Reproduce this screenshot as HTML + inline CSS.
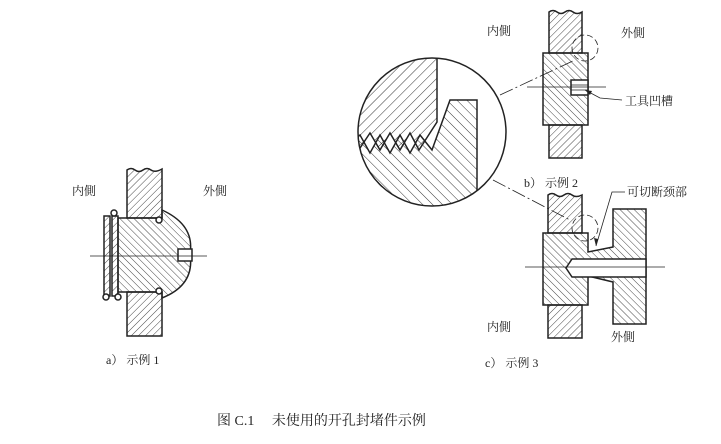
<!DOCTYPE html>
<html><head><meta charset="utf-8"><style>
body{margin:0;background:#fff}
svg{display:block}
text{font-family:"Liberation Serif","Noto Serif CJK SC","Noto Sans CJK SC",serif;fill:#222}
</style></head><body>
<svg width="721" height="444" viewBox="0 0 721 444" xmlns="http://www.w3.org/2000/svg">
<defs>
<pattern id="h1" width="5" height="5" patternUnits="userSpaceOnUse" patternTransform="rotate(45)"><line x1="0" y1="0" x2="0" y2="5" stroke="#333" stroke-width="0.9"/></pattern>
<pattern id="h2" width="5" height="5" patternUnits="userSpaceOnUse" patternTransform="rotate(-45)"><line x1="0" y1="0" x2="0" y2="5" stroke="#333" stroke-width="0.9"/></pattern>
<pattern id="h3" width="7" height="7" patternUnits="userSpaceOnUse" patternTransform="rotate(45)"><line x1="0" y1="0" x2="0" y2="7" stroke="#333" stroke-width="1"/></pattern>
<pattern id="h4" width="7" height="7" patternUnits="userSpaceOnUse" patternTransform="rotate(-45)"><line x1="0" y1="0" x2="0" y2="7" stroke="#333" stroke-width="1"/></pattern>
<clipPath id="bc"><circle cx="432" cy="132" r="74"/></clipPath>
</defs>
<g stroke="#222" stroke-width="1.5">
<!-- a -->
<path d="M127 170 q4 -3 8 0 q4 3 8 0 q4 -3 8 0 q4 3 11 -1 L162 218 L127 218 Z" fill="url(#h1)"/>
<path d="M127 292 L162 292 L162 336 L127 336 Z" fill="url(#h1)"/>
<path d="M118 218 L162 218 L162 210 Q195 225 190 254 Q195 285 162 298 L162 292 L118 292 Z" fill="url(#h2)"/>
<rect x="104" y="216" width="6" height="80" fill="url(#h1)"/>
<rect x="112" y="216" width="6" height="80" fill="url(#h1)"/>
<circle cx="114" cy="213" r="3" fill="#fff"/>
<circle cx="106" cy="297" r="3" fill="#fff"/><circle cx="118" cy="297" r="3" fill="#fff"/>
<circle cx="159" cy="220" r="3" fill="#fff"/><circle cx="159" cy="291" r="3" fill="#fff"/>
<rect x="178" y="249" width="14" height="12" fill="#fff"/>
<!-- b -->
<path d="M549 12 q4 -3 8 0 q4 3 8 0 q4 -3 8 0 q4 3 9 0 L582 53 L549 53 Z" fill="url(#h1)"/>
<path d="M549 125 L582 125 L582 158 L549 158 Z" fill="url(#h1)"/>
<path d="M543 53 L588 53 L588 125 L543 125 Z" fill="url(#h2)"/>
<rect x="571" y="80" width="17" height="15" fill="#fff"/>
<line x1="571" y1="85" x2="588" y2="85" stroke-width="0.8"/><line x1="571" y1="90" x2="588" y2="90" stroke-width="0.8"/>
<g clip-path="url(#bc)">
<path d="M350 50 L437 50 L437 122 L428 136 L419 150 L410 133 L400 150 L390 133 L380 150 L370 133 L360 148 L350 140 Z" fill="url(#h3)"/>
<path d="M350 144 L360 135 L370 153 L380 135 L390 153 L400 135 L410 153 L420 135 L432 150 L450 100 L477 100 L477 220 L350 220 Z" fill="url(#h4)"/>
</g>
<circle cx="432" cy="132" r="74" fill="none"/>
<!-- c -->
<path d="M548 195 q4 -3 8 0 q4 3 8 0 q4 -3 8 0 q4 3 10 0 L582 233 L548 233 Z" fill="url(#h1)"/>
<path d="M548 305 L582 305 L582 338 L548 338 Z" fill="url(#h1)"/>
<path d="M543 233 L588 233 L588 252 L613 247 L613 209 L646 209 L646 324 L613 324 L613 282 L588 276 L588 305 L543 305 Z" fill="url(#h2)"/>
<path d="M646 259 L572 259 L566 268 L572 277 L646 277 Z" fill="#fff"/>
</g>
<g stroke="#222" stroke-width="0.8" fill="none">
<line x1="90" y1="256" x2="207" y2="256"/>
<line x1="527" y1="87" x2="606" y2="87"/>
<line x1="525" y1="267" x2="665" y2="267"/>
<circle cx="585" cy="48" r="13" stroke-dasharray="6 3"/>
<circle cx="585" cy="228" r="13" stroke-dasharray="6 3"/>
<line x1="500" y1="95" x2="575" y2="60" stroke-dasharray="14 3 2 3"/>
<line x1="493" y1="180" x2="570" y2="220" stroke-dasharray="14 3 2 3"/>
<polyline points="622,100 600,98 585,90"/>
<polyline points="625,192 612,192 596,246"/>
</g>
<path d="M585 90 l7 1 l-2 4 z M596 246 l-2 -8 l4 1 z" fill="#222"/>
<g font-size="12">
<text x="72" y="195">内側</text><text x="203" y="195">外側</text>
<text x="106" y="364">a）  示例 1</text>
<text x="487" y="35">内側</text><text x="621" y="37">外側</text>
<text x="625" y="105">工具凹槽</text>
<text x="524" y="187">b）  示例 2</text>
<text x="627" y="196">可切断颈部</text>
<text x="487" y="331">内側</text><text x="611" y="341">外側</text>
<text x="485" y="367">c）  示例 3</text>
</g>
<text x="217" y="425" font-size="14">图 C.1　 未使用的开孔封堵件示例</text>
</svg>
</body></html>
